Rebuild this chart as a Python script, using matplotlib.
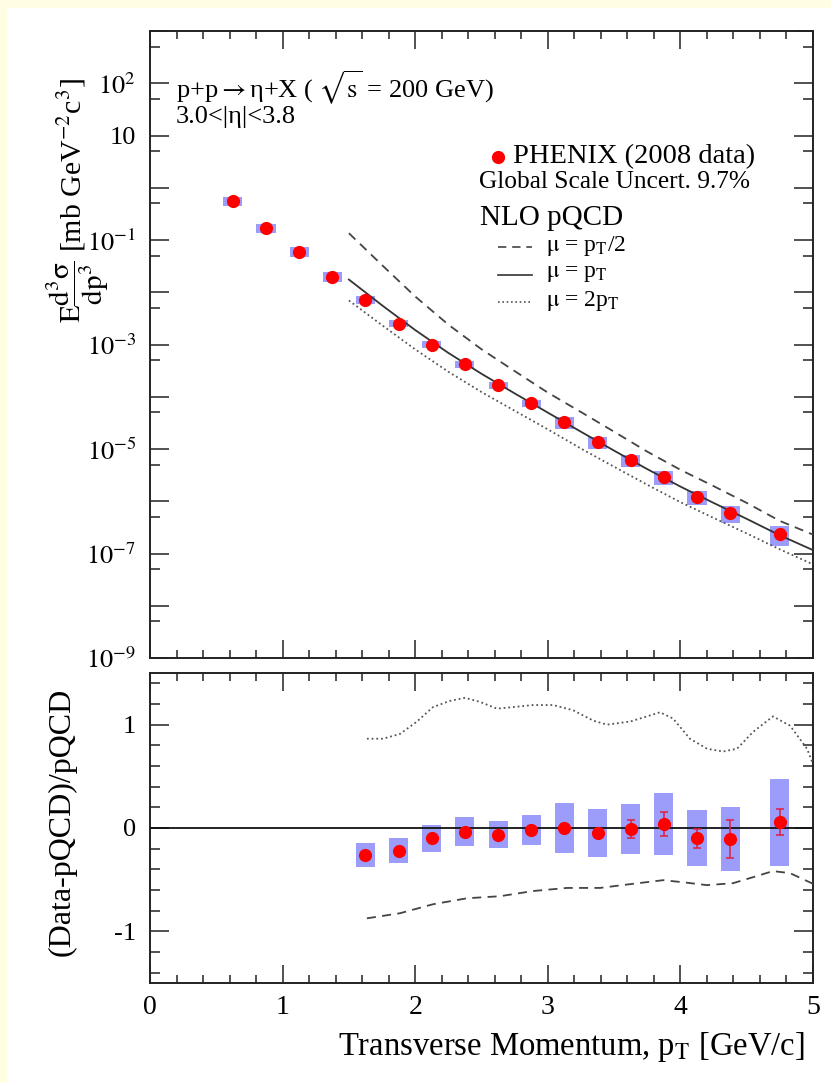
import numpy as np
import matplotlib
matplotlib.use("Agg")
import matplotlib.pyplot as plt
from matplotlib.patches import Rectangle
from matplotlib.lines import Line2D
from matplotlib.ticker import FixedLocator, NullFormatter, FixedFormatter

plt.rcParams['font.family'] = ['Liberation Serif', 'DejaVu Serif']
plt.rcParams['mathtext.fontset'] = 'stix'
plt.rcParams['axes.unicode_minus'] = False

# ---------------- data ----------------
pt = [0.625, 0.875, 1.125, 1.375, 1.625, 1.875, 2.125, 2.375, 2.625, 2.875,
      3.125, 3.375, 3.625, 3.875, 4.125, 4.375, 4.75]
xsec = [0.565, 0.172, 0.060, 0.020, 7.24e-3, 2.52e-3, 1.0e-3, 4.15e-4, 1.65e-4,
        7.46e-5, 3.24e-5, 1.34e-5, 6.08e-6, 2.88e-6, 1.19e-6, 5.9e-7, 2.35e-7]
xsec_sys_rel = [0.20, 0.20, 0.20, 0.20, 0.16, 0.154, 0.144, 0.145, 0.139, 0.148,
                0.24, 0.24, 0.24, 0.29, 0.30, 0.35, 0.40]

pt_theory = [1.5, 1.75, 2.0, 2.25, 2.5, 2.75, 3.0, 3.25, 3.5, 3.75, 4.0, 4.25, 4.5, 4.75, 5.0]
nlo_half = [0.135, 0.0331, 8.3e-3, 2.4e-3, 8.1e-4, 3.1e-4, 1.2e-4, 5.1e-5, 2.14e-5,
            8.9e-6, 4.0e-6, 1.95e-6, 9.3e-7, 4.2e-7, 2.3e-7]
nlo_one = [1.75e-2, 5.62e-3, 1.89e-3, 6.9e-4, 2.75e-4, 1.16e-4, 4.97e-5, 2.14e-5, 9.3e-6,
           4.12e-6, 1.91e-6, 9.3e-7, 4.6e-7, 2.23e-7, 1.16e-7]
nlo_two = [6.97e-3, 2.34e-3, 8.07e-4, 3.01e-4, 1.23e-4, 5.4e-5, 2.38e-5, 1.02e-5, 4.57e-6,
           2.07e-6, 9.6e-7, 4.8e-7, 2.42e-7, 1.2e-7, 6.2e-8]

pt_ratio = [1.625, 1.875, 2.125, 2.375, 2.625, 2.875, 3.125, 3.375, 3.625, 3.875, 4.125, 4.375, 4.75]
ratio = [-0.262, -0.22, -0.10, -0.036, -0.065, -0.02, 0.0, -0.05, -0.01, 0.04, -0.10, -0.11, 0.055]
ratio_stat = [0.02, 0.02, 0.02, 0.02, 0.03, 0.03, 0.04, 0.04, 0.09, 0.118, 0.095, 0.185, 0.125]
ratio_sys = [0.118, 0.12, 0.13, 0.14, 0.13, 0.145, 0.24, 0.23, 0.24, 0.30, 0.27, 0.31, 0.42]

pt_dot_ratio = [1.636, 1.757, 1.885, 2.013, 2.134, 2.262, 2.376, 2.489, 2.617, 2.738, 2.888,
                3.039, 3.190, 3.341, 3.446, 3.620, 3.748, 3.846, 3.944, 4.072, 4.201,
                4.321, 4.427, 4.548, 4.698, 4.827, 4.955, 5.0]
dot_ratio = [0.864, 0.864, 0.91, 1.03, 1.17, 1.23, 1.26, 1.22, 1.155, 1.17, 1.19,
             1.19, 1.14, 1.04, 1.0, 1.03, 1.08, 1.12, 1.06, 0.864, 0.767,
             0.74, 0.767, 0.93, 1.08, 0.99, 0.767, 0.62]
pt_dash_ratio = [1.636, 1.885, 2.134, 2.391, 2.640, 2.889, 3.145, 3.394, 3.643, 3.869,
                 4.020, 4.201, 4.397, 4.548, 4.698, 4.827, 5.0]
dash_ratio = [-0.874, -0.825, -0.738, -0.68, -0.66, -0.61, -0.58, -0.58, -0.54, -0.505,
              -0.525, -0.553, -0.534, -0.476, -0.417, -0.437, -0.54]

xticks_major = [0, 1, 2, 3, 4, 5]
ydecades = list(range(-9, 4))
ylabels_top = {2: r'$\mathrm{10^{2}}$', 1: '10', -1: r'$\mathrm{10^{-1}}$',
               -3: r'$\mathrm{10^{-3}}$', -5: r'$\mathrm{10^{-5}}$',
               -7: r'$\mathrm{10^{-7}}$', -9: r'$\mathrm{10^{-9}}$'}

# ---------------- figure ----------------
W, H = 831, 1083
fig = plt.figure(figsize=(W / 100, H / 100), dpi=100, facecolor='white')
bg = '#FFFEE2'
fig.patches.append(Rectangle((0, 1 - 7 / H), 1, 7 / H, transform=fig.transFigure,
                             color=bg, zorder=-10))
fig.patches.append(Rectangle((0, 0), 6 / W, 1, transform=fig.transFigure,
                             color=bg, zorder=-10))

L, R = 150, 813
ax1 = fig.add_axes([L / W, 1 - 658 / H, (R - L) / W, (658 - 31) / H])
ax2 = fig.add_axes([L / W, 1 - 983 / H, (R - L) / W, (983 - 673) / H])

spine_col = '#222222'
box_col = '#9c9cfb'
line_col = '#333333'
tick_fs = 19

for ax in (ax1, ax2):
    ax.set_xlim(0, 5)
    for s in ax.spines.values():
        s.set_linewidth(1.4)
        s.set_color(spine_col)
    ax.xaxis.set_major_locator(FixedLocator(xticks_major))
    ax.xaxis.set_minor_locator(FixedLocator([x / 5 for x in range(26)]))
    ax.tick_params(axis='x', which='major', direction='in', length=13, width=1.1,
                   top=True, bottom=True, color=spine_col, labelsize=20, pad=9)
    ax.tick_params(axis='x', which='minor', direction='in', length=6, width=1.1,
                   top=True, bottom=True, color=spine_col)
    ax.tick_params(axis='y', which='major', direction='in', length=14, width=1.1,
                   left=True, right=True, color=spine_col, labelsize=tick_fs, pad=10)
    ax.tick_params(axis='y', which='minor', direction='in', length=7, width=1.1,
                   left=True, right=True, color=spine_col)

# ---- top panel ----
ax1.set_yscale('log')
ax1.set_ylim(1e-9, 1e3)
ax1.yaxis.set_major_locator(FixedLocator([10.0 ** d for d in ydecades]))
ax1.yaxis.set_major_formatter(FixedFormatter([ylabels_top.get(d, '') for d in ydecades]))
ax1.yaxis.set_minor_locator(FixedLocator([0.5 * 10.0 ** d for d in ydecades]))
ax1.yaxis.set_minor_formatter(NullFormatter())
ax1.tick_params(axis='x', labelbottom=False)

bw = 0.072
for x, y, r in zip(pt, xsec, xsec_sys_rel):
    ax1.add_patch(Rectangle((x - bw, y * (1 - r)), 2 * bw, y * (1 + r) - y * (1 - r),
                            facecolor=box_col, edgecolor='none', zorder=2))
ax1.plot(pt_theory, nlo_half, color='#444444', lw=1.3, ls=(0, (5, 3.5)), zorder=3)
ax1.plot(pt_theory, nlo_one, color=line_col, lw=1.3, ls='-', zorder=3)
ax1.plot(pt_theory, nlo_two, color='#555555', lw=1.3, ls=(0, (1, 1.6)), zorder=3)
ax1.plot(pt, xsec, 'o', color='red', ms=9.5, mec='none', zorder=4)

# annotations (one two-line text)
ax1.text(0.039, 0.893,
         'p+p$\\rightarrow$η+X ( $\\sqrt{\\mathrm{s}}$ = 200 GeV)\n3.0<|η|<3.8',
         transform=ax1.transAxes, fontsize=19, va='center', ha='left', linespacing=0.95)

ax1.plot([0.525], [0.799], 'o', color='red', ms=9.5, mec='none', transform=ax1.transAxes)
ax1.text(0.548, 0.799, 'PHENIX (2008 data)', transform=ax1.transAxes,
         fontsize=20.5, va='center', ha='left')
ax1.text(0.496, 0.759, 'Global Scale Uncert. 9.7%', transform=ax1.transAxes,
         fontsize=18.3, va='center', ha='left')
ax1.text(0.497, 0.702, 'NLO pQCD', transform=ax1.transAxes,
         fontsize=21, va='center', ha='left')
leg_y = [0.6555, 0.611, 0.568]
leg_txt = [r'$\mathrm{\mu}$ = p$_{\mathrm{T}}$/2',
           r'$\mathrm{\mu}$ = p$_{\mathrm{T}}$',
           r'$\mathrm{\mu}$ = 2p$_{\mathrm{T}}$']
leg_ls = [(0, (5, 3.5)), '-', (0, (1, 1.6))]
leg_cols = ['#444444', line_col, '#555555']
for yy, tt, ls, cc in zip(leg_y, leg_txt, leg_ls, leg_cols):
    ax1.add_line(Line2D([0.525, 0.576], [yy, yy], transform=ax1.transAxes,
                        color=cc, lw=1.2, ls=ls))
    ax1.text(0.598, yy + 0.002, tt, transform=ax1.transAxes, fontsize=17,
             va='center', ha='left')

# y title of the top panel, in two pieces (fraction + units)
fig.text(81 / W, 1 - 323 / H,
         r'$\mathrm{E}\dfrac{\mathrm{d}^{3}\mathrm{\sigma}}{\mathrm{dp}^{3}}$',
         rotation=90, rotation_mode='anchor', ha='left', va='baseline', fontsize=21)
fig.text(82 / W, 1 - 252 / H, r'[mb GeV$^{\mathrm{-2}}$c$^{\mathrm{3}}$]',
         rotation=90, rotation_mode='anchor', ha='left', va='baseline', fontsize=21.5)

# ---- bottom panel ----
ax2.set_ylim(-1.5, 1.5)
ax2.yaxis.set_major_locator(FixedLocator([-1, 0, 1]))
ax2.yaxis.set_major_formatter(FixedFormatter(['-1', '0', '1']))
ax2.yaxis.set_minor_locator(FixedLocator([v / 5 for v in range(-7, 8)]))
ax2.xaxis.set_major_formatter(FixedFormatter([str(v) for v in xticks_major]))

ax2.axhline(0, color='#111111', lw=1.3, zorder=3)
for x, y, s in zip(pt_ratio, ratio, ratio_sys):
    ax2.add_patch(Rectangle((x - bw, y - s), 2 * bw, 2 * s,
                            facecolor=box_col, edgecolor='none', zorder=2))
ax2.plot(pt_dot_ratio, dot_ratio, color='#555555', lw=1.3, ls=(0, (1, 1.6)), zorder=3)
ax2.plot(pt_dash_ratio, dash_ratio, color='#444444', lw=1.3, ls=(0, (5, 3.5)), zorder=3)
ax2.errorbar(pt_ratio, ratio, yerr=ratio_stat, fmt='none', ecolor='#e0203c',
             elinewidth=1.1, capsize=3, capthick=1.1, zorder=4)
ax2.plot(pt_ratio, ratio, 'o', color='red', ms=9.5, mec='none', zorder=5)

ax2.set_ylabel('(Data-pQCD)/pQCD', fontsize=23, va='center')
ax2.yaxis.set_label_coords(-0.133, 0.519)
ax2.set_xlabel(r'Transverse Momentum, p$_{\mathrm{T}}$ [GeV/c]', fontsize=23.5,
               loc='right', va='center')
ax2.xaxis.set_label_coords(0.988, -0.206)

fig.savefig('out.png', dpi=100, facecolor=fig.get_facecolor())
